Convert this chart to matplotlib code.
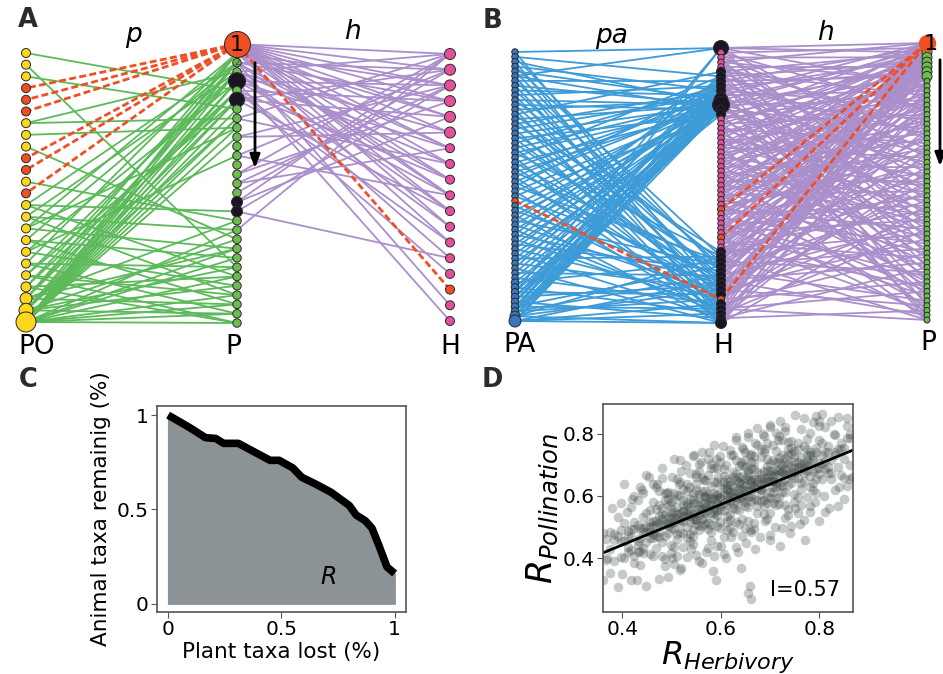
import numpy as np
import matplotlib.pyplot as plt
from matplotlib.collections import LineCollection

# ---------------- panel A: pollination / herbivory network ----------------
po_count = 24
pa_plant_count = 31
pa_herb_count = 18
po_lost = [3, 4, 5, 9, 10, 12]
pa_plant_black = [4, 6, 17, 18]
pa_herb_lost = [15]

# plant links of every pollinator (top to bottom)
po_links = [[5], [24], [7], [], [], [], [8, 3], [9], [21], [], [], [19], [],
            [2, 18, 25], [3, 20, 27], [1, 22, 9], [2, 23, 28], [4, 26, 12],
            [1, 24, 29], [3, 27, 30, 6], [2, 25, 5, 30],
            [1, 3, 5, 28, 22, 19], [2, 4, 6, 8, 26, 29, 21, 24],
            [1, 2, 3, 4, 5, 6, 7, 8, 9, 10, 20, 22, 23, 25, 27, 28, 29, 30]]

# herbivore links of every plant
pa_herb_links = [[0, 1, 2, 3, 4, 5, 6, 7, 8, 9, 10, 11], [2, 4, 6, 9, 12],
                 [1, 3, 8, 10, 16], [0, 5, 7, 11, 13], [2, 6, 9, 17],
                 [3, 8, 12, 14], [1, 4, 10], [], [0, 7], [], [2, 5], [],
                 [1, 9], [], [0, 3], [2, 6], [1], [0, 4], [13, 2], [], [0],
                 [], [], [], [], [], [], [], [], [], []]

# ---------------- panel B ----------------
pb_pa_count = 57
pb_herb_count = 59
pb_plant_count = 59
pb_pa_lost = [31]
pb_herb_lost = [34, 40, 53]
pb_herb_black = [0, 5, 6, 7, 8, 9, 10, 11, 12, 13, 14] + list(range(43, 59))

pb_pa_links = [[0, 52], [6, 47], [12, 55], [9, 44], [11, 50], [0, 13, 57],
               [7, 46], [12, 53], [10, 49], [8, 56], [12, 45], [13, 51],
               [11, 58], [5, 48], [12, 54], [9, 43], [10, 57], [12, 47],
               [14, 52], [8, 50], [11, 55], [12, 44], [6, 58], [13, 49],
               [10, 53], [12, 46], [9, 56], [11, 51], [7, 45], [12, 57],
               [14, 48], [], [10, 54], [12, 50], [13, 58], [8, 46],
               [11, 52], [12, 56], [6, 49], [10, 55], [12, 47], [9, 53],
               [13, 57], [11, 44], [12, 51], [7, 58], [10, 48], [12, 54],
               [14, 45], [11, 56], [12, 52, 0], [8, 50, 13],
               [10, 57, 12, 6], [12, 55, 9, 46], [11, 53, 13, 0, 48],
               [12, 58, 10, 5, 44, 51],
               [12, 13, 11, 9, 7, 49, 54, 56, 58]]

pb_herb_links = [[0, 2, 9, 24, 41], [1, 14, 33], [3, 20, 47], [0, 8, 29, 55],
                 [5, 17, 38], [2, 11, 26, 50], [4, 22, 44], [1, 7, 31, 58],
                 [6, 19, 36], [3, 13, 27, 52], [0, 10, 42], [2, 16, 34, 57],
                 [1, 5, 12, 23, 39, 48], [4, 18, 30], [6, 25, 53], [0, 9, 37],
                 [3, 15, 45], [1, 21, 32, 56], [5, 11, 40], [2, 28, 49],
                 [4, 14, 35], [0, 7, 24, 54], [6, 19, 43], [3, 12, 30, 51],
                 [1, 17, 38], [5, 26, 46], [2, 9, 33, 58], [4, 20, 41],
                 [0, 13, 29, 50], [6, 16, 36], [3, 22, 47], [1, 10, 31, 55],
                 [5, 18, 44], [2, 8, 27, 52], [4, 23, 39], [6, 15, 34, 57],
                 [1, 11, 42], [3, 25, 49], [5, 14, 32, 53], [0, 20, 37],
                 [2, 12, 28, 56], [4, 17, 45], [1, 9, 35, 51], [6, 21, 40],
                 [3, 13, 30, 58], [0, 7, 24, 48], [5, 19, 43], [2, 16, 33, 54],
                 [4, 11, 38], [1, 26, 46, 57], [6, 14, 31], [3, 22, 41, 55],
                 [0, 10, 36], [5, 18, 29, 50], [2, 8, 44], [4, 27, 52, 58],
                 [1, 15, 39], [6, 23, 47, 56], [3, 12, 34]]

# ---------------- panel C: robustness curve ----------------
plant_lost = [0, 0.05, 0.10, 0.165, 0.21, 0.245, 0.31, 0.38, 0.45, 0.49, 0.55,
              0.59, 0.65, 0.72, 0.80, 0.83, 0.87, 0.90, 0.93, 0.966, 1.0]
animal_remaining = [1.0, 0.965, 0.93, 0.88, 0.876, 0.85, 0.85, 0.805, 0.76,
                    0.76, 0.72, 0.67, 0.635, 0.59, 0.52, 0.47, 0.44, 0.40,
                    0.31, 0.195, 0.16]

# ---------------- panel D: R herbivory vs R pollination ----------------
herb_cols = [0.362, 0.368, 0.375, 0.383, 0.391, 0.398, 0.404, 0.411, 0.417,
             0.424, 0.431, 0.437, 0.443, 0.449, 0.456, 0.462, 0.468, 0.474,
             0.481, 0.487, 0.493, 0.499, 0.506, 0.512, 0.518, 0.524, 0.531,
             0.537, 0.543, 0.549, 0.556, 0.562, 0.568, 0.574, 0.581, 0.587,
             0.593, 0.599, 0.606, 0.612, 0.618, 0.624, 0.631, 0.637, 0.643,
             0.649, 0.656, 0.662, 0.668, 0.674, 0.681, 0.687, 0.693, 0.699,
             0.706, 0.712, 0.718, 0.724, 0.731, 0.737, 0.743, 0.749, 0.756,
             0.762, 0.768, 0.774, 0.781, 0.787, 0.793, 0.799, 0.806, 0.812,
             0.818, 0.824, 0.831, 0.837, 0.843, 0.849, 0.856, 0.862]
poll_cols = [
    [.482, .330], [.461, .394], [.352, .484, .431], [.477, .391, .459],
    [.308, .473, .534], [.579, .405, .457, .490], [.515, .456, .638, .401],
    [.489, .471, .437, .420], [.468, .564, .331, .493, .426],
    [.600, .406, .493, .384, .516], [.455, .587, .442, .508, .422],
    [.379, .496, .423, .630, .465], [.533, .417, .496, .608, .434, .486],
    [.452, .505, .312, .544, .485, .667], [.554, .486, .415, .518, .500, .466],
    [.519, .580, .466, .503, .407, .640, .478],
    [.558, .506, .473, .628, .434, .521],
    [.515, .333, .570, .483, .615, .470, .536],
    [.509, .543, .560, .408, .525, .452, .659],
    [.610, .377, .539, .472, .588, .509, .397],
    [.590, .503, .612, .480, .533, .340, .572, .513],
    [.417, .562, .496, .582, .514, .443, .546, .528],
    [.517, .590, .383, .548, .609, .495, .532, .436],
    [.462, .541, .653, .479, .531, .564, .409, .603],
    [.524, .717, .485, .544, .362, .599, .512, .644],
    [.551, .622, .519, .537, .571, .588, .436, .553, .480],
    [.465, .579, .542, .638, .405, .567, .500, .616, .537],
    [.551, .518, .673, .479, .566, .457, .589, .536],
    [.728, .491, .578, .446, .591, .525, .611, .543, .472],
    [.527, .510, .662, .545, .618, .411, .576, .637, .523],
    [.701, .539, .606, .490, .569, .681, .507, .559, .592],
    [.548, .657, .525, .578, .385, .617, .558, .740, .503],
    [.531, .597, .511, .579, .650, .547, .565, .599, .616],
    [.512, .719, .554, .493, .607, .570, .666, .433, .595],
    [.570, .458, .632, .580, .547, .702, .508, .595, .486],
    [.762, .530, .589, .407, .644, .557, .689, .544, .610],
    [.504, .607, .589, .555, .538, .690, .573, .646, .439, .604],
    [.555, .592, .496, .729, .567, .634, .518, .597, .709],
    [.625, .470, .664, .577, .686, .554, .607, .414, .646],
    [.536, .623, .491, .636, .570, .656, .588, .517, .620, .602],
    [.649, .497, .614, .541, .748, .583, .522, .636, .599],
    [.628, .561, .677, .598, .486, .660, .608, .575, .730],
    [.518, .650, .597, .790, .558, .617, .435, .672, .585, .717],
    [.642, .556, .624, .695, .592, .610, .644, .661, .509],
    [.472, .637, .698, .584, .621, .525, .758, .596, .663],
    [.742, .568, .620, .653, .498, .692, .605, .714, .582, .635],
    [.678, .619, .801, .564, .651, .519, .664, .598, .684, .290],
    [.652, .634, .600, .583, .735, .618, .691, .484, .649, .710, .270],
    [.631, .727, .494, .656, .589, .705, .626, .514, .688],
    [.762, .568, .655, .546, .678, .625, .818, .586, .645],
    [.618, .750, .605, .671, .585, .653, .724, .621, .639],
    [.542, .659, .586, .793, .628, .567, .681, .644, .740],
    [.695, .579, .658, .770, .596, .648, .681, .526, .720],
    [.614, .667, .474, .706, .647, .829, .592, .679, .547],
    [.717, .649, .578, .681, .663, .629, .612, .764, .647],
    [.682, .743, .629, .666, .570, .803, .641, .708, .592],
    [.721, .669, .636, .791, .597, .684, .575, .707],
    [.678, .496, .733, .646, .778, .633, .699, .613, .681],
    [.671, .705, .722, .570, .687, .614, .821, .656],
    [.772, .539, .701, .634, .750, .671, .559, .733],
    [.753, .666, .775, .643, .696, .503, .735, .676],
    [.580, .725, .659, .745, .677, .606, .709, .691],
    [.679, .752, .545, .710, .771, .657, .694, .598],
    [.624, .703, .815, .641, .693, .726, .571],
    [.686, .849, .647, .706, .524, .761, .674],
    [.713, .784, .681, .699, .733, .750, .598],
    [.628, .742, .705, .801, .568, .730, .663],
    [.714, .681, .836, .642, .729, .620],
    [.858, .653, .740, .608, .753, .687],
    [.689, .672, .824, .707, .780],
    [.864, .702, .769, .653, .732],
    [.711, .820, .688, .741, .548],
    [.694, .760, .674, .742],
    [.675, .842, .717, .656],
    [.732, .620, .794, .742],
    [.854, .692, .751, .569],
    [.667, .770, .752],
    [.718, .755, .659],
    [.787, .632, .826],
    [.698, .785, .653, .798],
]
# scattered points on the rim of the cloud
rim_herb = [0.44, 0.455, 0.47, 0.48, 0.49, 0.50, 0.505, 0.515, 0.52, 0.53,
            0.535, 0.545, 0.55, 0.56, 0.565, 0.575, 0.58, 0.59, 0.595, 0.605,
            0.61, 0.62, 0.63, 0.64, 0.645, 0.655, 0.66, 0.67, 0.685, 0.69,
            0.70, 0.715, 0.73, 0.75, 0.72,
            0.50, 0.52, 0.54, 0.555, 0.57, 0.585, 0.60, 0.61, 0.62, 0.635,
            0.64, 0.65, 0.66, 0.67, 0.68, 0.69, 0.70, 0.71, 0.72, 0.73,
            0.74, 0.75, 0.76, 0.77, 0.78, 0.79, 0.80, 0.81, 0.82, 0.84,
            0.59, 0.66, 0.37, 0.38, 0.40, 0.41, 0.43, 0.42,
            0.80, 0.83, 0.855, 0.865, 0.85]
rim_poll = [0.62, 0.66, 0.64, 0.69, 0.61, 0.66, 0.72, 0.64, 0.68, 0.70,
            0.63, 0.73, 0.67, 0.71, 0.65, 0.74, 0.69, 0.72, 0.66, 0.76,
            0.70, 0.73, 0.78, 0.71, 0.75, 0.79, 0.73, 0.77, 0.80, 0.75,
            0.82, 0.78, 0.81, 0.86, 0.84,
            0.40, 0.37, 0.43, 0.39, 0.42, 0.36, 0.44, 0.40, 0.47, 0.42,
            0.37, 0.45, 0.49, 0.43, 0.47, 0.52, 0.46, 0.50, 0.44, 0.53,
            0.48, 0.56, 0.51, 0.46, 0.55, 0.58, 0.52, 0.60, 0.56, 0.63,
            0.33, 0.31, 0.40, 0.56, 0.35, 0.55, 0.33, 0.59,
            0.84, 0.80, 0.85, 0.66, 0.59]
fit_slope = 0.65
fit_intercept = 0.183
fit_label = 'I=0.57'

# ---------------- colours ----------------
green_edge = '#5cba5a'
purple_edge = '#ab8fcb'
blue_edge = '#3d9bd8'
red = '#f04e23'
yellow_node = '#fcd81c'
green_node = '#6cbd4e'
pink_node = '#e2509c'
blue_node = '#3b75bd'
black_node = '#1b1424'

fig = plt.figure(figsize=(9.43, 6.74), dpi=100)
net = fig.add_axes([0, 0, 1, 1])
net.set_xlim(0, 943)
net.set_ylim(674, 0)
net.axis('off')


def column(x, top, bottom, n):
    return np.full(n, float(x)), np.linspace(top, bottom, n)


def edges(ax, xa, ya, xb, yb, links, color, lw=1.3):
    segs = []
    for i, targets in enumerate(links):
        for j in targets:
            segs.append([(xa[i], ya[i]), (xb[j], yb[j])])
    ax.add_collection(LineCollection(segs, colors=color, linewidths=lw, zorder=1))


def dashed(ax, p, q):
    ax.plot([p[0], q[0]], [p[1], q[1]], color=red, lw=2.0,
            ls=(0, (2.5, 1.2)), zorder=2)


def nodes(ax, xs, ys, colors, diam_px, zorder=3):
    s = (np.asarray(diam_px) * 0.72) ** 2
    ax.scatter(xs, ys, s=s, c=colors, edgecolors='#2a2a2a', linewidths=0.7,
               zorder=zorder)


# ---- A ----
pox, poy = column(26, 53, 322, po_count)
px_, py_ = column(237, 44, 323, pa_plant_count)
hx, hy = column(450, 54, 321, pa_herb_count)

edges(net, pox, poy, px_, py_, po_links, green_edge)
edges(net, px_, py_, hx, hy, pa_herb_links, purple_edge)
for i in po_lost:
    dashed(net, (px_[0], py_[0]), (pox[i], poy[i]))
for i in pa_herb_lost:
    dashed(net, (px_[0], py_[0]), (hx[i], hy[i]))

po_col = [red if i in po_lost else yellow_node for i in range(po_count)]
po_size = [9] * po_count
po_size[20], po_size[21], po_size[22], po_size[23] = 10, 12, 14, 20
nodes(net, pox, poy, po_col, po_size)

p_col = [black_node if i in pa_plant_black else green_node for i in range(pa_plant_count)]
p_size = [8.5] * pa_plant_count
p_size[4], p_size[6], p_size[17], p_size[18] = 17, 15, 11, 11
nodes(net, px_[1:], py_[1:], p_col[1:], p_size[1:])
nodes(net, px_[:1], py_[:1], [red], [26], zorder=4)

h_col = [red if i in pa_herb_lost else pink_node for i in range(pa_herb_count)]
h_size = [11] * 6 + [9] * (pa_herb_count - 6)
nodes(net, hx, hy, h_col, h_size)

net.text(px_[0], py_[0] + 1, '1', ha='center', va='center', fontsize=16, zorder=5)
net.text(px_[2], py_[2], '2', ha='center', va='center', fontsize=6.5,
         color='#333333', zorder=5)
net.annotate('', xy=(255, 171), xytext=(255, 60),
             arrowprops=dict(arrowstyle='-|>,head_length=0.8,head_width=0.3',
                             color='black', lw=2), zorder=5)

# ---- B ----
pax, pay = column(515, 52, 321, pb_pa_count)
bhx, bhy = column(721, 48, 323, pb_herb_count)
bpx, bpy = column(927, 43, 320, pb_plant_count)

edges(net, pax, pay, bhx, bhy, pb_pa_links, blue_edge)
edges(net, bhx, bhy, bpx, bpy, pb_herb_links, purple_edge)
for i in pb_pa_lost:
    dashed(net, (pax[i], pay[i]), (bhx[53], bhy[53]))
for i in pb_herb_lost:
    dashed(net, (bhx[i], bhy[i]), (bpx[0], bpy[0]))

pa_col = [red if i in pb_pa_lost else blue_node for i in range(pb_pa_count)]
pa_size = [6.5] * pb_pa_count
for i in range(48, 55):
    pa_size[i] = 7.5
pa_size[55], pa_size[56] = 10, 12
nodes(net, pax, pay, pa_col, pa_size)

bh_col, bh_size = [], []
for i in range(pb_herb_count):
    if i in pb_herb_lost:
        bh_col.append(red)
        bh_size.append(7)
    elif i in pb_herb_black:
        bh_col.append(black_node)
        bh_size.append(9)
    else:
        bh_col.append(pink_node)
        bh_size.append(6.5)
bh_size[0], bh_size[11], bh_size[12], bh_size[58] = 15, 14, 17, 11
nodes(net, bhx, bhy, bh_col, bh_size)

bp_col = [green_node] * pb_plant_count
bp_size = [6] * pb_plant_count
for i in range(1, 8):
    bp_size[i] = 10
nodes(net, bpx[1:], bpy[1:], bp_col[1:], bp_size[1:])
net.scatter(bpx[:1], bpy[:1], s=(16 * 0.72) ** 2, c=red, zorder=4)
net.text(bpx[0] + 4, bpy[0] + 1, '1', ha='center', va='center', fontsize=16, zorder=5)
net.annotate('', xy=(940, 169), xytext=(940, 57),
             arrowprops=dict(arrowstyle='-|>,head_length=0.8,head_width=0.3',
                             color='black', lw=2), zorder=5)

# column and panel labels
for x, y, s in [(37, 347, 'PO'), (233, 347, 'P'), (450, 347, 'H'),
                (520, 345, 'PA'), (723, 346, 'H'), (928, 343, 'P')]:
    net.text(x, y, s, ha='center', va='center', fontsize=19)
for x, y, s in [(133, 35, 'p'), (352, 32, 'h'), (612, 36, 'pa'), (825, 33, 'h')]:
    net.text(x, y, s, ha='center', va='center', fontsize=19, style='italic')
for x, y, s in [(28, 20, 'A'), (492, 21, 'B'), (28, 380, 'C'), (492, 380, 'D')]:
    net.text(x, y, s, ha='center', va='center', fontsize=18.5, fontweight='bold',
             color='#2b2b2b')

# ---- C ----
axc = fig.add_axes([157 / 943, 62 / 674, 249 / 943, 206 / 674])
axc.fill_between(plant_lost, 0, animal_remaining, color='#8c9396', zorder=1)
axc.plot(plant_lost, animal_remaining, color='black', lw=5.5,
         solid_capstyle='butt', zorder=2)
axc.set_xlim(-0.049, 1.05)
axc.set_ylim(-0.044, 1.048)
axc.set_xticks([0, 0.5, 1])
axc.set_xticklabels(['0', '0.5', '1'])
axc.set_yticks([0, 0.5, 1])
axc.set_yticklabels(['0', '0.5', '1'])
axc.text(0.71, 0.14, 'R', style='italic', fontsize=17, ha='center', va='center')
axc.set_xlabel('Plant taxa lost (%)', fontsize=15.5, labelpad=2)
axc.set_ylabel('Animal taxa remainig (%)', fontsize=15.5, labelpad=4)

# ---- D ----
axd = fig.add_axes([603 / 943, 62 / 674, 250 / 943, 208 / 674])
rx, ry = list(rim_herb), list(rim_poll)
for x, ys in zip(herb_cols, poll_cols):
    for y in ys:
        rx.append(x)
        ry.append(y)
axd.scatter(rx, ry, s=48, color='#34403f', alpha=0.28, linewidths=0)
axd.set_xlim(0.361, 0.868)
axd.set_ylim(0.228, 0.895)
lx = np.array(axd.get_xlim())
axd.plot(lx, fit_intercept + fit_slope * lx, color='black', lw=2)
axd.set_xticks([0.4, 0.6, 0.8])
axd.set_yticks([0.4, 0.6, 0.8])
axd.text(0.77, 0.30, fit_label, fontsize=15, ha='center', va='center')
axd.set_xlabel(r'$R_{Herbivory}$', fontsize=23, labelpad=0)
axd.set_ylabel(r'$R_{Pollination}$', fontsize=25, labelpad=2)

for ax in (axc, axd):
    for sp in ax.spines.values():
        sp.set_color('#555555')
        sp.set_linewidth(1.2)
    ax.tick_params(labelsize=14.5, length=4, color='#555555', pad=2)

fig.savefig('out.png', dpi=100)
